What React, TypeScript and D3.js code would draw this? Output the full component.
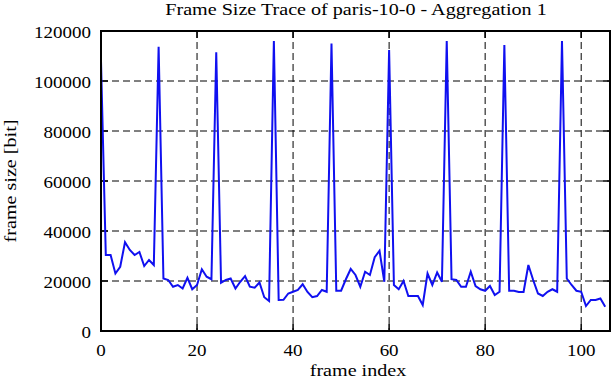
import React from "react";
import * as d3 from "d3";

const frameSizes: number[] = [
  108000, 30400, 30400, 23000, 25700, 35500, 32400, 30400, 31600, 26000,
  28400, 26400, 113700, 21000, 20400, 17700, 18400, 17000, 21300, 16700,
  18400, 24700, 21700, 20700, 111500, 19300, 20400, 21000, 17000, 19700,
  22000, 17700, 17300, 19400, 13500, 12000, 116000, 12400, 12500, 15000,
  15700, 16400, 18700, 15600, 13500, 14000, 16400, 15700, 115000, 16100,
  16100, 20700, 24800, 22400, 17700, 23700, 22400, 29500, 32100, 19700,
  112400, 18400, 16700, 20000, 14000, 14000, 14000, 10400, 23000, 18400,
  23400, 19700, 116000, 20700, 20400, 17700, 17700, 23700, 18000, 16700,
  16100, 18000, 14400, 15700, 114400, 16100, 16100, 15600, 15600, 26400,
  20400, 15000, 14000, 15700, 16700, 15700, 116000, 21000, 18400, 16100,
  15700, 10000, 12400, 12400, 13000, 9700,
];
const xTicks: number[] = [0, 20, 40, 60, 80, 100];
const yTicks: number[] = [0, 20000, 40000, 60000, 80000, 100000, 120000];
const title = "Frame Size Trace of paris-10-0 - Aggregation 1";
const xLabel = "frame index";
const yLabel = "frame size [bit]";

export default function App() {
  const W = 612, H = 382;
  const left = 101, right = 610, top = 31, bottom = 331;
  const x = d3.scaleLinear().domain([0, 106]).range([left, right]);
  const y = d3.scaleLinear().domain([0, 120000]).range([bottom, top]);
  const line = d3
    .line<number>()
    .x((_, i) => x(i))
    .y((d) => y(d));
  const font = "'Liberation Serif', 'Times New Roman', serif";
  const tl = 7;
  const sx = 1.15;
  const T = (px: number, py: number, extra = "") => `translate(${px},${py}) ${extra} scale(${sx},1)`;
  return (
    <div style={{ position: "absolute", left: 0, top: 0 }}>
      <svg width={W} height={H} style={{ display: "block", background: "#fff" }}>
        <text transform={T(356, 15)} fontFamily={font} fontSize={17.5} textAnchor="middle" fill="#000">
          {title}
        </text>
        {xTicks.filter((t) => t > 0).map((t) => (
          <line key={"gx" + t} x1={x(t)} x2={x(t)} y1={top} y2={bottom} stroke="#000" strokeWidth={1} strokeDasharray="7,4" />
        ))}
        {yTicks.filter((t) => t > 0 && t < 120000).map((t) => (
          <line key={"gy" + t} x1={left} x2={right} y1={y(t)} y2={y(t)} stroke="#000" strokeWidth={1} strokeDasharray="7,4" />
        ))}
        {xTicks.map((t) => (
          <g key={"tx" + t}>
            <line x1={x(t)} x2={x(t)} y1={bottom} y2={bottom - tl} stroke="#000" strokeWidth={1.5} />
            <line x1={x(t)} x2={x(t)} y1={top} y2={top + tl} stroke="#000" strokeWidth={1.5} />
            <text transform={T(x(t), 356)} fontFamily={font} fontSize={16.5} textAnchor="middle" fill="#000">
              {t}
            </text>
          </g>
        ))}
        {yTicks.map((t) => (
          <g key={"ty" + t}>
            <line x1={left} x2={left + tl} y1={y(t)} y2={y(t)} stroke="#000" strokeWidth={1.5} />
            <line x1={right} x2={right - tl} y1={y(t)} y2={y(t)} stroke="#000" strokeWidth={1.5} />
            <text transform={T(91, y(t) + 7)} fontFamily={font} fontSize={16.5} textAnchor="end" fill="#000">
              {t}
            </text>
          </g>
        ))}
        <path d={line(frameSizes) || ""} fill="none" stroke="#1010f0" strokeWidth={2} strokeLinejoin="miter" />
        <rect x={left} y={top} width={right - left} height={bottom - top} fill="none" stroke="#000" strokeWidth={2} />
        <text transform={T(358, 376)} fontFamily={font} fontSize={17.5} textAnchor="middle" fill="#000">
          {xLabel}
        </text>
        <text transform={`translate(16,181) rotate(-90) scale(${sx},1)`} fontFamily={font} fontSize={17.5} textAnchor="middle" fill="#000">
          {yLabel}
        </text>
      </svg>
    </div>
  );
}
